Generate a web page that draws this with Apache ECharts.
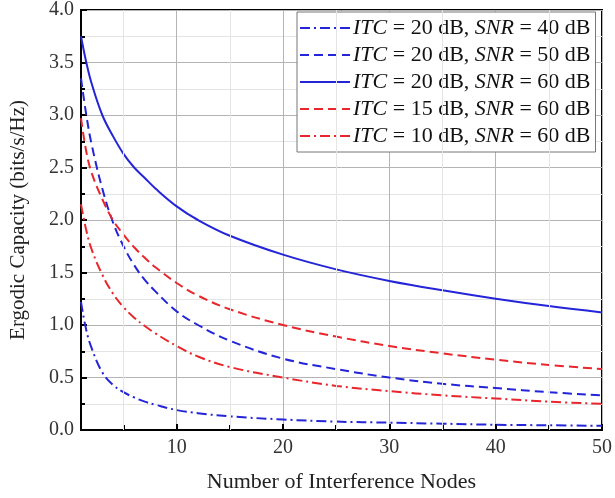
<!DOCTYPE html>
<html><head><meta charset="utf-8">
<script src="https://cdn.jsdelivr.net/npm/echarts@6/dist/echarts.min.js"></script>
<style>html,body{margin:0;padding:0;background:#fff}#c{width:615px;height:498px}</style>
</head><body><div id="c"></div>
<script>
const nodes = [1,1.5,2,3,4,5,6,7,8,10,12,15,20,25,30,35,40,45,50];
const itc20snr40 = [1.22,0.95,0.78,0.55,0.43,0.36,0.31,0.27,0.24,0.19,0.16,0.13,0.10,0.08,0.07,0.06,0.05,0.045,0.04];
const itc20snr50 = [3.35,3.0,2.72,2.3,1.98,1.75,1.57,1.43,1.32,1.13,1.0,0.85,0.68,0.58,0.5,0.44,0.4,0.36,0.33];
const itc20snr60 = [3.75,3.5,3.3,3.0,2.8,2.63,2.5,2.4,2.3,2.13,2.0,1.85,1.67,1.53,1.42,1.33,1.25,1.18,1.12];
const itc15snr60 = [2.97,2.65,2.45,2.2,2.0,1.86,1.74,1.64,1.55,1.4,1.28,1.15,1.0,0.89,0.8,0.73,0.67,0.62,0.58];
const itc10snr60 = [2.15,1.9,1.72,1.48,1.3,1.17,1.07,0.99,0.92,0.8,0.7,0.6,0.5,0.42,0.37,0.33,0.3,0.27,0.25];
const xMajor = [10,20,30,40,50];
const xMinor = [5,15,25,35,45];
const seriesNames = ['ITC = 20 dB, SNR = 40 dB','ITC = 20 dB, SNR = 50 dB','ITC = 20 dB, SNR = 60 dB','ITC = 15 dB, SNR = 60 dB','ITC = 10 dB, SNR = 60 dB'];

const BLUE = '#2424d8', RED = '#e8262c';
const FONT = 'Liberation Serif';
const pair = ys => nodes.map((x,i)=>[x, ys[i]]);
const dashDot = [10,4,2,4];
const dashed = [9,5];
const defs = [
  [itc20snr40, BLUE, dashDot],
  [itc20snr50, BLUE, dashed],
  [itc20snr60, BLUE, 'solid'],
  [itc15snr60, RED, dashed],
  [itc10snr60, RED, dashDot]
];
const chart = echarts.init(document.getElementById('c'));
const series = defs.map((d, k) => ({
  name: seriesNames[k], type: 'line', xAxisIndex: 0, data: pair(d[0]), smooth: 0.4,
  showSymbol: false, symbol: 'none', clip: true, z: 3,
  lineStyle: {color: d[1], width: 2, type: d[2]}, itemStyle: {color: d[1]}
}));
series.push({
  type: 'line', xAxisIndex: 1, data: [], silent: true, z: 1,
  markLine: {silent: true, symbol: ['none','none'], label: {show: false},
    lineStyle: {color: '#e4e4e4', width: 1, type: 'solid'},
    data: xMinor.map(v => ({xAxis: v}))}
});
chart.setOption({
  animation: false,
  grid: {left: 79, top: 6, right: 12, bottom: 68, show: true, borderColor: '#000', borderWidth: 2, backgroundColor: 'transparent'},
  legend: {
    left: 297, top: 12, orient: 'vertical', itemGap: 5, itemWidth: 50, itemHeight: 20,
    padding: [5, 5, 5, 2], borderColor: '#777', borderWidth: 1, backgroundColor: '#fff',
    data: seriesNames,
    itemStyle: {opacity: 0},
    formatter: n => n.replace('ITC','{i|ITC}').replace('SNR','{i|SNR}'),
    textStyle: {fontFamily: FONT, fontSize: 22, lineHeight: 20, color: '#111', padding: [0,0,0,-2],
      rich: {i: {fontFamily: FONT, fontSize: 22, lineHeight: 20, fontStyle: 'italic', color: '#111'}}}
  },
  xAxis: [{
    type: 'value', min: 1, max: 50,
    name: 'Number of Interference Nodes', nameLocation: 'middle', nameGap: 41,
    nameTextStyle: {fontFamily: FONT, fontSize: 22, color: '#222'},
    axisLine: {show: true, lineStyle: {color: '#000', width: 2}},
    axisTick: {show: true, inside: true, length: 6, customValues: xMajor, lineStyle: {color: '#000', width: 2}},
    axisLabel: {customValues: xMajor, fontFamily: FONT, fontSize: 20, color: '#333', margin: 8},
    splitLine: {show: true, lineStyle: {color: '#b4b4b4', width: 1}}
  },{
    type: 'value', min: 1, max: 50, position: 'bottom', show: true,
    axisLine: {show: false},
    axisTick: {show: true, inside: true, length: 5, customValues: xMinor, lineStyle: {color: '#000', width: 2}},
    axisLabel: {show: true, color: 'rgba(0,0,0,0)', customValues: xMinor},
    splitLine: {show: false}
  }],
  yAxis: {
    type: 'value', min: 0, max: 4, interval: 0.5,
    name: 'Ergodic Capacity (bits/s/Hz)', nameLocation: 'middle', nameGap: 52,
    nameTextStyle: {fontFamily: FONT, fontSize: 21, color: '#222'},
    axisLine: {show: true, lineStyle: {color: '#000', width: 2}},
    axisTick: {show: true, inside: true, length: 6, lineStyle: {color: '#000', width: 2}},
    minorTick: {show: true, splitNumber: 2, length: 4, lineStyle: {color: '#000', width: 2}},
    minorSplitLine: {show: true, lineStyle: {color: '#e4e4e4', width: 1}},
    axisLabel: {fontFamily: FONT, fontSize: 20, color: '#333', margin: 7, formatter: v => v.toFixed(1)},
    splitLine: {show: true, lineStyle: {color: '#b4b4b4', width: 1}}
  },
  series: series
});
</script></body></html>
